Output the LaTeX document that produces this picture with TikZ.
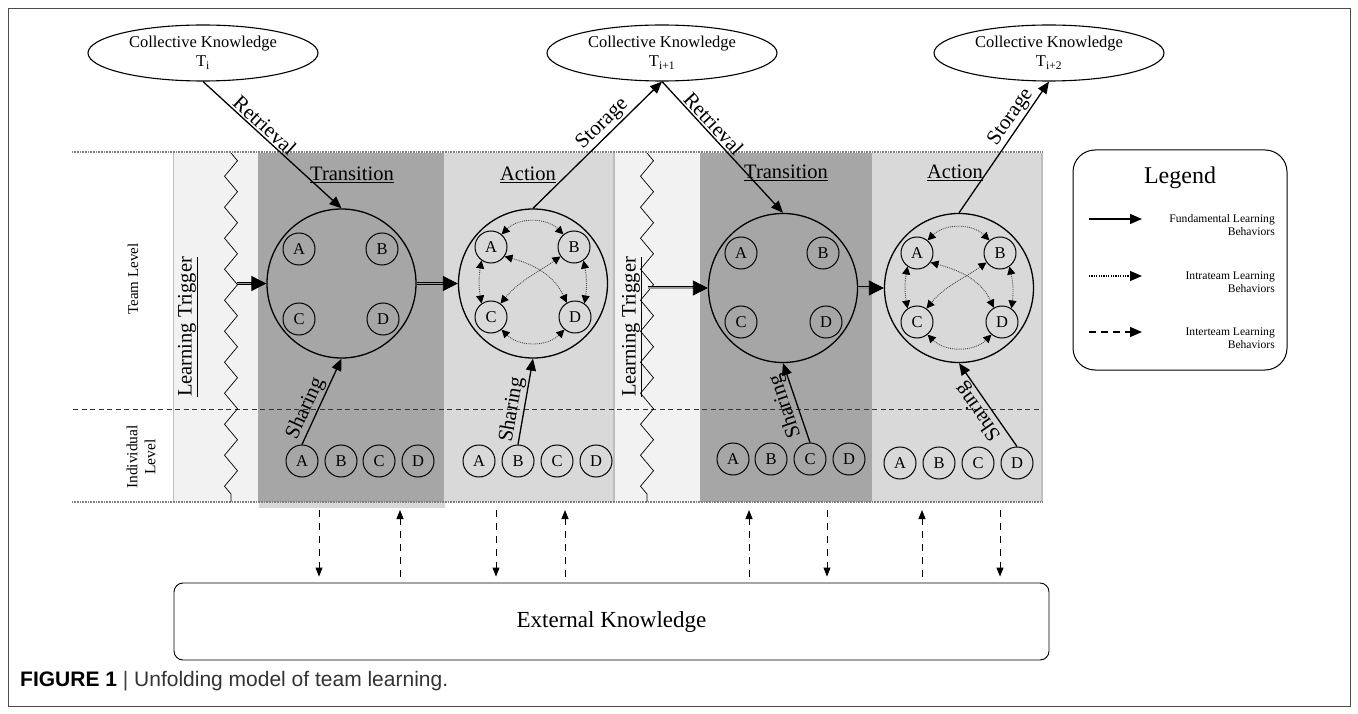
\documentclass[tikz,border=0pt]{standalone}
\usepackage{fontspec}
\setmainfont{Liberation Serif}
\newfontfamily\capfont{Liberation Sans}
\usetikzlibrary{arrows.meta,shapes.geometric,decorations.pathmorphing,shadows,calc}
\definecolor{transgray}{HTML}{A6A6A6}
\definecolor{actgray}{HTML}{D9D9D9}
\definecolor{triggray}{HTML}{F2F2F2}
\definecolor{edgegray}{HTML}{BDBDBD}
\newcommand\intrarrows[1]{%
  \draw[dotarr] (#1A.50) to[bend left=45] (#1B.130);
  \draw[dotarr] (#1C.-50) to[bend right=45] (#1D.-130);
  \draw[dotarr] (#1A.235) to[bend right=10] (#1C.125);
  \draw[dotarr] (#1B.305) to[bend left=10] (#1D.55);
  \draw[dotarr] (#1A.-35) to[out=-15,in=115] (#1D.120);
  \draw[dotarr] (#1B.215) to[out=215,in=50] (#1C.55);
}
\begin{document}
\begin{tikzpicture}[x=1pt,y=-1pt,
  team/.style={circle,draw,line width=1.3pt,minimum size=149pt,inner sep=0pt},
  mem/.style={circle,draw,line width=1pt,minimum size=32pt,inner sep=0pt,font=\fontsize{16.5}{16.5}\selectfont},
  ck/.style={ellipse,draw,line width=1.1pt,minimum width=230pt,minimum height=56pt,inner sep=0pt,align=center,font=\fontsize{16.5}{19}\selectfont},
  solidarr/.style={line width=1.3pt,-{Triangle[length=12pt,width=10pt]}},
  lbl/.style={sloped,above,inner sep=1.5pt,font=\fontsize{21}{21}\selectfont},
  dotarr/.style={black!70,line width=0.9pt,dash pattern=on 0.9pt off 1pt,{Triangle[length=8pt,width=8pt,color=black]}-{Triangle[length=8pt,width=8pt,color=black]}},
  interarr/.style={line width=0.9pt,dash pattern=on 7pt off 6pt,-{Triangle[length=9pt,width=7pt]}},
  dbl/.style={double=black!40,double distance=1.4pt,line width=0.8pt,shorten >=14pt},
  bigtip/.style={line width=0.8pt,-{Triangle[length=15pt,width=15pt]}},
  phase/.style={font=\fontsize{20.5}{20.5}\selectfont},
  zz/.style={line width=0.7pt,decorate,decoration={zigzag,segment length=31pt,amplitude=6.5pt}},
  bandline/.style={black!50,line width=1.5pt,dash pattern=on 1pt off 0.6pt},
]
\useasboundingbox (0,0) rectangle (1358,714);
\fill[white] (0,0) rectangle (1358,714);
\draw[black!70,line width=0.8pt] (8,8) rectangle (1350,706);

% panels
\fill[triggray] (173,153) rectangle (258,502);
\draw[edgegray,line width=1pt] (173.5,153) -- (173.5,502);
\fill[transgray,drop shadow={shadow xshift=1pt,shadow yshift=-6pt,opacity=0.3}] (258,153) rectangle (444,502);
\fill[actgray] (444,153) rectangle (613,502);
\fill[triggray] (615,153) rectangle (700,502);
\draw[edgegray,line width=2pt] (614,153) -- (614,502);
\fill[transgray] (700,153) rectangle (872,502);
\fill[actgray] (872,153) rectangle (1042,502);
\draw[edgegray,line width=1.2pt] (1042,153) -- (1042,502);

% level lines
\draw[bandline] (72,152) -- (1043,152);
\draw[bandline] (72,502) -- (1043,502);
\draw[black!80,line width=0.8pt,dash pattern=on 5pt off 3.5pt] (73,409.5) -- (1042,409.5);

% zigzags
\draw[zz] (231,153) -- (231,502);
\draw[zz] (647,153) -- (647,502);

% level and phase texts
\node[rotate=90,font=\fontsize{15}{15}\selectfont] (teamlvl) at (133,279) {Team Level};
\node[rotate=90,align=center,font=\fontsize{15.5}{18}\selectfont] (indlvl) at (141,457) {Individual\\Level};
\node[rotate=90,phase] (trig1) at (188,327) {\underline{Learning Trigger}};
\node[rotate=90,phase] (trig2) at (632,327) {\underline{Learning Trigger}};
\node[phase] (ph1) at (352,175) {\underline{Transition}};
\node[phase] (ph2) at (528,175) {\underline{Action}};
\node[phase] (ph3) at (786,173) {\underline{Transition}};
\node[phase] (ph4) at (955,173) {\underline{Action}};

% team circles
\node[team] (T1) at (341.5,283.5) {};
\node[team] (A1) at (533,283.5) {};
\node[team] (T2) at (783,288) {};
\node[team] (C2) at (959,288) {};

\node[mem] (t1A) at (299,249) {A};
\node[mem] (t1B) at (382,249) {B};
\node[mem] (t1C) at (299,319) {C};
\node[mem] (t1D) at (383,319) {D};

\node[mem] (a1A) at (491,247) {A};
\node[mem] (a1B) at (574,247) {B};
\node[mem] (a1C) at (491,317) {C};
\node[mem] (a1D) at (575,317) {D};

\node[mem] (t2A) at (741,253) {A};
\node[mem] (t2B) at (823,253) {B};
\node[mem] (t2C) at (741,322) {C};
\node[mem] (t2D) at (826,322) {D};

\node[mem] (a2A) at (917,253) {A};
\node[mem] (a2B) at (1000,253) {B};
\node[mem] (a2C) at (917,322) {C};
\node[mem] (a2D) at (1002,322) {D};

\intrarrows{a1}
\intrarrows{a2}

% individual members
\node[mem] (i1A) at (302,461) {A};
\node[mem] (i1B) at (341,461) {B};
\node[mem] (i1C) at (379,461) {C};
\node[mem] (i1D) at (418,461) {D};
\node[mem] (i2A) at (479,461) {A};
\node[mem] (i2B) at (518,461) {B};
\node[mem] (i2C) at (557,461) {C};
\node[mem] (i2D) at (596,461) {D};
\node[mem] (i3A) at (733,459) {A};
\node[mem] (i3B) at (771,459) {B};
\node[mem] (i3C) at (810,459) {C};
\node[mem] (i3D) at (849,459) {D};
\node[mem] (i4A) at (900,463) {A};
\node[mem] (i4B) at (939,463) {B};
\node[mem] (i4C) at (978,463) {C};
\node[mem] (i4D) at (1017,463) {D};

% collective knowledge
\node[ck] (E1) at (203,53) {Collective Knowledge\\T\textsubscript{i}};
\node[ck] (E2) at (662,53) {Collective Knowledge\\T\textsubscript{i+1}};
\node[ck] (E3) at (1049,53) {Collective Knowledge\\T\textsubscript{i+2}};

% fundamental arrows
\draw[solidarr] (E1.south) -- node[lbl,pos=0.4] {Retrieval} (T1.north);
\draw[solidarr] (A1.north) -- node[lbl,pos=0.6] {Storage} (E2.south);
\draw[solidarr] (E2.south) -- node[lbl,pos=0.37] {Retrieval} (T2.north);
\draw[solidarr] (C2.north) -- node[lbl,pos=0.68] {Storage} (E3.south);
\draw[solidarr] (i1A.north) -- node[lbl,pos=0.36] {Sharing} (T1.south);
\draw[solidarr] (i2B.north) -- node[lbl,pos=0.38] {Sharing} (A1.south);
\draw[solidarr] (i3C.north) -- node[lbl,allow upside down,pos=0.5] {Sharing} (T2.south);
\draw[solidarr] (i4D.north) -- node[lbl,allow upside down,pos=0.5] {Sharing} (C2.south);

% double arrows
\coordinate (lt1) at (237,283.5);
\coordinate (lt2) at (648,288);
\draw[dbl] (lt1) -- (T1.west);
\draw[bigtip] ([xshift=-15pt]T1.west) -- (T1.west);
\draw[dbl] (T1.east) -- (A1.west);
\draw[bigtip] ([xshift=-15pt]A1.west) -- (A1.west);
\draw[dbl] (lt2) -- (T2.west);
\draw[bigtip] ([xshift=-15pt]T2.west) -- (T2.west);
\draw[dbl] (T2.east) -- (C2.west);
\draw[bigtip] ([xshift=-15pt]C2.west) -- (C2.west);

% legend
\node[draw,rounded corners=22pt,line width=1pt,minimum width=214pt,minimum height=220pt] (leg) at (1180,260) {};
\node[font=\fontsize{24}{24}\selectfont] (legtitle) at (1180,178) {Legend};
\coordinate (l1s) at (1089,219); \coordinate (l1e) at (1142,219);
\coordinate (l2s) at (1089,276); \coordinate (l2e) at (1142,276);
\coordinate (l3s) at (1089,332); \coordinate (l3e) at (1142,332);
\draw[solidarr] (l1s) -- (l1e);
\draw[line width=1.2pt,dash pattern=on 1.2pt off 1.2pt,-{Triangle[length=12pt,width=10pt]}] (l2s) -- (l2e);
\draw[line width=1.3pt,dash pattern=on 7pt off 5pt,-{Triangle[length=12pt,width=10pt]}] (l3s) -- (l3e);
\node[anchor=east,align=right,inner sep=0pt,font=\fontsize{11.6}{13}\selectfont] (lt1txt) at (1275,225.5) {Fundamental Learning\\Behaviors};
\node[anchor=east,align=right,inner sep=0pt,font=\fontsize{11.6}{13}\selectfont] (lt2txt) at (1275,282.5) {Intrateam Learning\\Behaviors};
\node[anchor=east,align=right,inner sep=0pt,font=\fontsize{11.6}{13}\selectfont] (lt3txt) at (1275,338.5) {Interteam Learning\\Behaviors};

% external knowledge
\node[draw,rounded corners=9pt,line width=0.9pt,minimum width=875pt,minimum height=77pt,font=\fontsize{23}{23}\selectfont] (ext) at (611.5,621.5) {External Knowledge};

% interteam arrows
\coordinate (x1) at (319,510);
\coordinate (x2) at (400,510);
\coordinate (x3) at (496,510);
\coordinate (x4) at (565,510);
\coordinate (x5) at (749,510);
\coordinate (x6) at (827,510);
\coordinate (x7) at (922,510);
\coordinate (x8) at (1000,510);
\draw[interarr,shorten >=6pt] (x1) -- (x1 |- ext.north);
\draw[interarr,shorten <=6pt] (x2 |- ext.north) -- (x2);
\draw[interarr,shorten >=6pt] (x3) -- (x3 |- ext.north);
\draw[interarr,shorten <=6pt] (x4 |- ext.north) -- (x4);
\draw[interarr,shorten <=6pt] (x5 |- ext.north) -- (x5);
\draw[interarr,shorten >=6pt] (x6) -- (x6 |- ext.north);
\draw[interarr,shorten <=6pt] (x7 |- ext.north) -- (x7);
\draw[interarr,shorten >=6pt] (x8) -- (x8 |- ext.north);

% caption
\node[anchor=west,inner sep=0pt,font=\capfont\fontsize{21}{21}\selectfont] (cap) at (20,681) {\textbf{FIGURE 1} {\color{black!75}|} {\color{black!80}Unfolding model of team learning.}};
\end{tikzpicture}
\end{document}
